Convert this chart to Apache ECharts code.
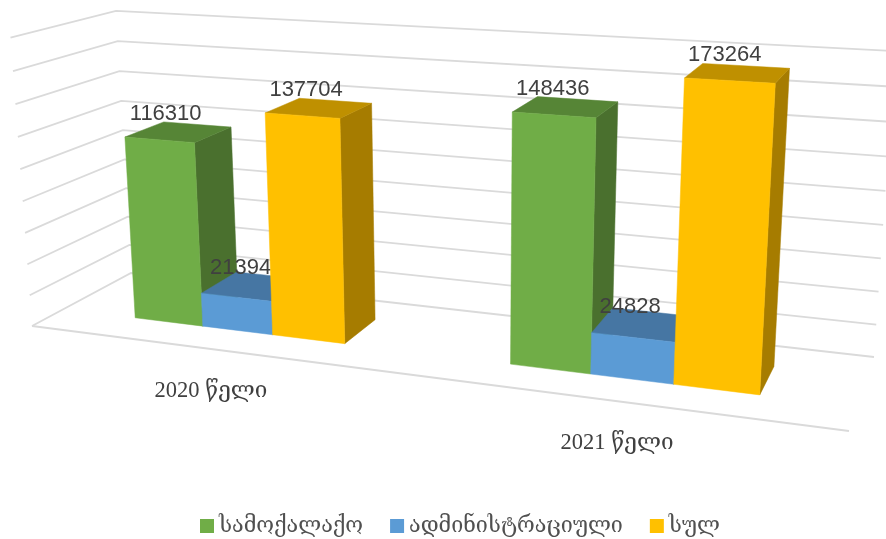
<!DOCTYPE html>
<html>
<head>
<meta charset="utf-8">
<script src="https://cdn.jsdelivr.net/npm/echarts@6/dist/echarts.min.js"></script>
<style>
    html, body { margin: 0; padding: 0; background: #fff; }
    #chart { width: 886px; height: 539px; }
</style>
</head>
<body>
<div id="chart"></div>
<script>
    let categories = ['2020 წელი', '2021 წელი'];
    let seriesNames = ['სამოქალაქო', 'ადმინისტრაციული', 'სულ'];
    let civilValues = [116310, 148436];
    let adminValues = [21394, 24828];
    let totalValues = [137704, 173264];
    let gridTicks = [0, 20000, 40000, 60000, 80000, 100000, 120000, 140000, 160000, 180000];

    // [front, side, top] colours of each series
    let shades = [
        ['#70AD47', '#4A702E', '#568536'],
        ['#5B9BD5', '#3F6D97', '#4676A3'],
        ['#FFC000', '#A67C00', '#BF9000']
    ];

    // floor of the chart box on screen: u runs along the categories, v into the depth
    // order of the corners: u0v0, u1v0, u1v1, u0v1
    let floorQuad = [[32, 326], [849, 431], [874, 357], [131, 273]];
    // vertical edges meet in this point far below the picture, heightScale sets the box height
    let verticalVanish = [470, 6200];
    let heightScale = -0.0468;
    let barRatio = 0.193;
    let depthFront = 0.30;
    let depthBack = 0.70;

    function homography(q) {
        let dx1 = q[1][0] - q[2][0], dx2 = q[3][0] - q[2][0], sx = q[0][0] - q[1][0] + q[2][0] - q[3][0];
        let dy1 = q[1][1] - q[2][1], dy2 = q[3][1] - q[2][1], sy = q[0][1] - q[1][1] + q[2][1] - q[3][1];
        let det = dx1 * dy2 - dx2 * dy1;
        let g = (sx * dy2 - dx2 * sy) / det;
        let h = (dx1 * sy - sx * dy1) / det;
        return {
            a: q[1][0] - q[0][0] + g * q[1][0], b: q[3][0] - q[0][0] + h * q[3][0], c: q[0][0],
            d: q[1][1] - q[0][1] + g * q[1][1], e: q[3][1] - q[0][1] + h * q[3][1], f: q[0][1],
            g: g, h: h
        };
    }
    let H = homography(floorQuad);

    function project(u, v, t) {
        let i = heightScale * t;
        let w = H.g * u + H.h * v + 1 + i;
        return [
            (H.a * u + H.b * v + H.c + verticalVanish[0] * i) / w,
            (H.d * u + H.e * v + H.f + verticalVanish[1] * i) / w
        ];
    }

    function face(points, color) {
        return {
            type: 'polygon',
            shape: { points: points },
            style: { fill: color, stroke: color, lineWidth: 0.5 }
        };
    }

    function renderBar(params, api) {
        let sys = params.coordSys;
        let pos = api.coord([api.value(0), api.value(1)]);
        let band = api.size([1, 0])[0] / sys.width;
        let w = band * barRatio;
        let idx = params.seriesIndex - 2;
        let u0 = (pos[0] - sys.x) / sys.width + (idx - 1.5) * w;
        let u1 = u0 + w;
        let t = (sys.y + sys.height - pos[1]) / sys.height;
        let c = shades[idx];
        let mid = project((u0 + u1) / 2, (depthFront + depthBack) / 2, t);
        return {
            type: 'group',
            children: [
                face([project(u1, depthFront, 0), project(u1, depthBack, 0), project(u1, depthBack, t), project(u1, depthFront, t)], c[1]),
                face([project(u0, depthFront, t), project(u1, depthFront, t), project(u1, depthBack, t), project(u0, depthBack, t)], c[2]),
                face([project(u0, depthFront, 0), project(u1, depthFront, 0), project(u1, depthFront, t), project(u0, depthFront, t)], c[0]),
                {
                    type: 'text',
                    style: {
                        x: mid[0] - 13,
                        y: mid[1] - 18,
                        text: String(api.value(1)),
                        font: '22px "Liberation Sans"',
                        fill: '#404040',
                        align: 'center',
                        verticalAlign: 'middle'
                    }
                }
            ]
        };
    }

    // gridlines on the back and left walls, plus the front edge of the floor
    function renderGrid(params, api) {
        let sys = params.coordSys;
        let t = (sys.y + sys.height - api.coord([0, api.value(0)])[1]) / sys.height;
        let pts = [project(0, 0, t), project(0, 1, t), project(1, 1, t)];
        let children = [{
            type: 'polyline',
            shape: { points: pts },
            style: { fill: 'none', stroke: '#DADADA', lineWidth: 1.8 }
        }];
        if (api.value(0) === 0) {
            children.push({
                type: 'polyline',
                shape: { points: [project(0, 0, 0), project(1, 0, 0)] },
                style: { fill: 'none', stroke: '#DADADA', lineWidth: 1.8 }
            });
        }
        return { type: 'group', children: children };
    }

    function renderCategory(params, api) {
        let sys = params.coordSys;
        let u = (api.coord([api.value(0), 0])[0] - sys.x) / sys.width;
        let p = project(u, 0, 0);
        return {
            type: 'text',
            style: {
                x: p[0] + 1,
                y: p[1] + 42,
                text: categories[api.value(0)],
                font: '22.5px "Liberation Serif", "DejaVu Serif", "DejaVu Sans"',
                fill: '#404040',
                align: 'center',
                verticalAlign: 'middle'
            }
        };
    }

    function barSeries(name, values, idx) {
        return {
            name: name,
            type: 'custom',
            renderItem: renderBar,
            clip: false,
            itemStyle: { color: shades[idx][0] },
            encode: { x: 0, y: 1 },
            data: values.map(function (v, i) { return [i, v]; })
        };
    }

    let chart = echarts.init(document.getElementById('chart'));
    chart.setOption({
        animation: false,
        grid: { left: 0, right: 0, top: 0, bottom: 0 },
        xAxis: { type: 'category', data: categories, show: false },
        yAxis: { type: 'value', min: 0, max: 180000, interval: 20000, show: false },
        legend: {
            data: seriesNames,
            left: 195,
            top: 510,
            icon: 'rect',
            itemWidth: 14,
            itemHeight: 14,
            itemGap: 27,
            textStyle: { fontFamily: '"DejaVu Serif", "DejaVu Sans"', fontSize: 21.5, color: '#505050' }
        },
        series: [
            {
                type: 'custom',
                renderItem: renderGrid,
                clip: false,
                silent: true,
                encode: { y: 0 },
                data: gridTicks.map(function (v) { return [v]; })
            },
            {
                type: 'custom',
                renderItem: renderCategory,
                clip: false,
                silent: true,
                encode: { x: 0 },
                data: categories.map(function (c, i) { return [i]; })
            },
            barSeries(seriesNames[0], civilValues, 0),
            barSeries(seriesNames[1], adminValues, 1),
            barSeries(seriesNames[2], totalValues, 2)
        ]
    });
</script>
</body>
</html>
